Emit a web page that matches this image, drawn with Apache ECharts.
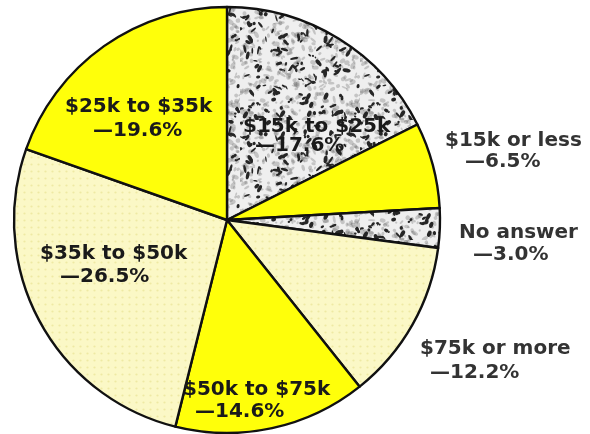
<!DOCTYPE html>
<html><head><meta charset="utf-8">
<script src="https://cdn.jsdelivr.net/npm/echarts@6/dist/echarts.min.js"></script>
<style>html,body{margin:0;padding:0;background:#fff}#chart{width:590px;height:434px}</style>
</head><body><div id="chart"></div>
<script>
// Household income brackets, clockwise from 12 o'clock
const brackets = ['$15k to $25k', '$15k or less', 'No answer', '$75k or more', '$50k to $75k', '$35k to $50k', '$25k to $35k'];
const shares = [17.6, 6.5, 3.0, 12.2, 14.6, 26.5, 19.6];
const fills = ['speckle', 'solid', 'speckle', 'dotted', 'solid', 'dotted', 'solid'];
const outsideLabel = [false, true, true, true, false, false, false];

// label blocks: left edge of first line, vertical middle, indent of second line, line height
const labelBoxes = [
  [243, 136, 12, 19],
  [445, 151, 20, 21],
  [459, 244, 14, 22],
  [420, 361, 10, 24],
  [183, 401, 12, 22],
  [40, 265, 20, 23],
  [65, 119, 28, 24]
];

// mottled black-and-white screen texture
function speckleTile() {
  const n = 120;
  const c = document.createElement('canvas'); c.width = c.height = n;
  const g = c.getContext('2d');
  g.fillStyle = '#efefef'; g.fillRect(0, 0, n, n);
  let s = 12345;
  const nx = () => (s = (s * 16807) % 2147483647) / 2147483647;
  for (let i = 0; i < 420; i++) {
    g.fillStyle = 'rgba(95,95,95,0.30)';
    g.beginPath();
    g.ellipse(nx() * n, nx() * n, 1 + nx() * 2.8, 0.8 + nx() * 1.6, nx() * Math.PI, 0, 2 * Math.PI);
    g.fill();
  }
  for (let i = 0; i < 150; i++) {
    g.fillStyle = '#262626';
    const x = nx() * n, y = nx() * n, a = nx() * Math.PI;
    g.beginPath();
    g.ellipse(x, y, 1 + nx() * 3.2, 0.7 + nx() * 1.4, a, 0, 2 * Math.PI);
    g.fill();
    if (nx() < 0.5) {
      g.beginPath();
      g.ellipse(x + Math.cos(a) * 3, y + Math.sin(a) * 3, 0.8 + nx() * 2, 0.6 + nx(), a + 0.6, 0, 2 * Math.PI);
      g.fill();
    }
  }
  return c;
}

// pale yellow with a fine dot screen
function dotTile() {
  const c = document.createElement('canvas'); c.width = c.height = 7;
  const g = c.getContext('2d');
  g.fillStyle = '#fbf8c6'; g.fillRect(0, 0, 7, 7);
  g.fillStyle = '#eee9a4';
  g.beginPath(); g.arc(3.5, 3.5, 1.1, 0, 2 * Math.PI); g.fill();
  return c;
}

const fillStyles = {
  solid: '#ffff0a',
  speckle: { image: speckleTile(), repeat: 'repeat' },
  dotted: { image: dotTile(), repeat: 'repeat' }
};

const data = brackets.map((name, i) => ({
  name: name,
  value: shares[i],
  itemStyle: { color: fillStyles[fills[i]] },
  label: {
    rich: {
      a: { lineHeight: labelBoxes[i][3], color: outsideLabel[i] ? '#333' : '#1a1a1a' },
      b: { lineHeight: labelBoxes[i][3], padding: [0, 0, 0, labelBoxes[i][2]], color: outsideLabel[i] ? '#333' : '#1a1a1a' }
    }
  }
}));

const textBase = { fontFamily: 'DejaVu Sans', fontWeight: 'bold', fontSize: 20 };

const chart = echarts.init(document.getElementById('chart'), null, { renderer: 'canvas' });
chart.setOption({
  animation: false,
  series: [{
    type: 'pie',
    center: [227, 220],
    radius: 213,
    startAngle: 90,
    clockwise: true,
    avoidLabelOverlap: false,
    silent: true,
    itemStyle: { borderColor: '#111', borderWidth: 2.4 },
    label: {
      show: true,
      position: 'inside',
      formatter: p => '{a|' + p.name + '}\n{b|\u2014' + p.value.toFixed(1) + '%}',
      rich: { a: Object.assign({}, textBase), b: Object.assign({}, textBase) }
    },
    labelLine: { show: false },
    labelLayout: p => ({
      x: labelBoxes[p.dataIndex][0],
      y: labelBoxes[p.dataIndex][1],
      align: 'left',
      verticalAlign: 'middle',
      hideOverlap: false
    }),
    emphasis: { disabled: true },
    data: data
  }]
});
</script>
</body></html>
